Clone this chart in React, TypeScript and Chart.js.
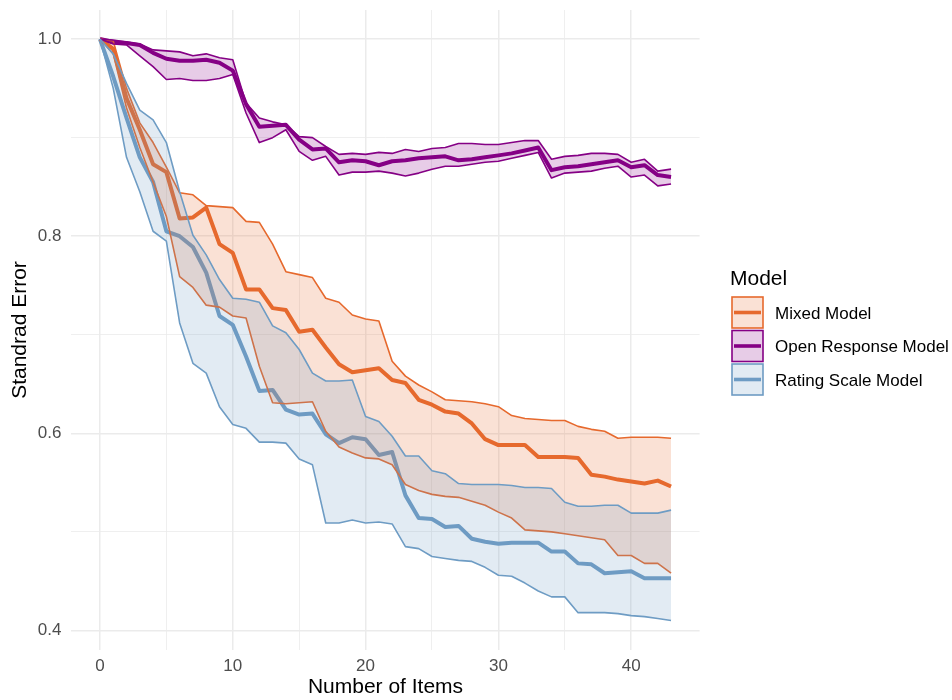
import { useEffect, useRef } from 'react';
import { Chart, registerables } from 'chart.js';

Chart.register(...registerables);

// Number of items administered (x axis)
const items = [
  0, 1, 2, 3, 4, 5, 6, 7, 8, 9, 10, 11, 12, 13, 14, 15, 16, 17, 18, 19, 20, 21,
  22, 23, 24, 25, 26, 27, 28, 29, 30, 31, 32, 33, 34, 35, 36, 37, 38, 39, 40, 41, 42, 43,
];

// Mixed Model: mean standard error and its band
const mixedMean = [
  1.0, 0.99, 0.94, 0.908, 0.873, 0.865, 0.818, 0.819, 0.829, 0.792, 0.783, 0.746, 0.746, 0.727,
  0.725, 0.703, 0.705, 0.687, 0.67, 0.662, 0.664, 0.666, 0.654, 0.651, 0.634, 0.629, 0.622, 0.62,
  0.61, 0.594, 0.588, 0.588, 0.588, 0.576, 0.576, 0.576, 0.575, 0.558, 0.556, 0.553, 0.551, 0.549,
  0.552, 0.546,
];
const mixedUpper = [
  1.0, 0.998, 0.95, 0.915, 0.895, 0.87, 0.844, 0.842, 0.831, 0.83, 0.829, 0.815, 0.814, 0.792,
  0.764, 0.761, 0.758, 0.737, 0.733, 0.72, 0.716, 0.714, 0.673, 0.658, 0.649, 0.642, 0.634, 0.633,
  0.632, 0.63, 0.627, 0.618, 0.615, 0.614, 0.613, 0.613, 0.607, 0.604, 0.602, 0.595, 0.596, 0.596,
  0.596, 0.595,
];
const mixedLower = [
  1.0, 0.985, 0.93, 0.89, 0.855, 0.82, 0.759, 0.748, 0.73, 0.728, 0.719, 0.717, 0.668, 0.631,
  0.63, 0.631, 0.632, 0.602, 0.586, 0.58, 0.575, 0.574, 0.568, 0.548, 0.542, 0.538, 0.536, 0.535,
  0.531, 0.527, 0.52, 0.514, 0.502, 0.501, 0.5, 0.498, 0.496, 0.494, 0.492, 0.476, 0.476, 0.468,
  0.468, 0.458,
];

// Open Response Model
const openMean = [
  1.0, 0.997, 0.996, 0.994, 0.986, 0.98, 0.978, 0.978, 0.979, 0.976, 0.968, 0.934, 0.911, 0.912,
  0.913, 0.898, 0.888, 0.889, 0.875, 0.877, 0.876, 0.872, 0.876, 0.877, 0.879, 0.88, 0.881, 0.877,
  0.878, 0.88, 0.882, 0.884, 0.887, 0.89, 0.867, 0.87, 0.871, 0.873, 0.875, 0.877, 0.87, 0.872,
  0.862, 0.86,
];
const openUpper = [
  1.0, 0.999, 0.997, 0.995, 0.989, 0.988, 0.987, 0.983, 0.985, 0.981, 0.979, 0.935, 0.92, 0.916,
  0.913, 0.901, 0.9, 0.891, 0.883, 0.884, 0.883, 0.885, 0.884, 0.888, 0.886, 0.889, 0.89, 0.894,
  0.894, 0.893, 0.893, 0.895, 0.897, 0.897, 0.878, 0.881, 0.882, 0.884, 0.884, 0.883, 0.875, 0.878,
  0.866, 0.868,
];
const openLower = [
  1.0, 0.995, 0.994, 0.983, 0.972, 0.959, 0.96, 0.958, 0.958, 0.96, 0.964, 0.925, 0.895, 0.9,
  0.908, 0.886, 0.877, 0.881, 0.862, 0.865, 0.865, 0.866, 0.864, 0.861, 0.864, 0.868, 0.871, 0.871,
  0.873, 0.875, 0.876, 0.879, 0.882, 0.885, 0.859, 0.864, 0.865, 0.866, 0.869, 0.871, 0.86, 0.862,
  0.851, 0.853,
];

// Rating Scale Model
const ratingMean = [
  1.0, 0.962, 0.92, 0.88, 0.855, 0.805, 0.8, 0.789, 0.763, 0.719, 0.71, 0.678, 0.643, 0.644,
  0.624, 0.619, 0.62, 0.599, 0.59, 0.596, 0.594, 0.578, 0.581, 0.537, 0.514, 0.513, 0.505, 0.506,
  0.493, 0.49, 0.488, 0.489, 0.489, 0.489, 0.48, 0.48, 0.468, 0.467, 0.458, 0.459, 0.46, 0.453,
  0.453, 0.453,
];
const ratingUpper = [
  1.0, 0.985, 0.955, 0.928, 0.918, 0.895, 0.845, 0.801, 0.781, 0.756, 0.737, 0.736, 0.733, 0.709,
  0.702, 0.685, 0.661, 0.653, 0.653, 0.654, 0.617, 0.612, 0.597, 0.577, 0.577, 0.562, 0.559, 0.549,
  0.548, 0.548, 0.548, 0.547, 0.545, 0.545, 0.544, 0.53, 0.526, 0.526, 0.527, 0.527, 0.519, 0.519,
  0.519, 0.522,
];
const ratingLower = [
  1.0, 0.95, 0.88, 0.845, 0.805, 0.795, 0.712, 0.671, 0.661, 0.627, 0.609, 0.605, 0.591, 0.591,
  0.59, 0.574, 0.568, 0.509, 0.509, 0.512, 0.509, 0.51, 0.508, 0.485, 0.483, 0.475, 0.473, 0.471,
  0.47, 0.464, 0.456, 0.455, 0.448, 0.44, 0.434, 0.434, 0.418, 0.418, 0.418, 0.417, 0.415, 0.414,
  0.412, 0.41,
];

const modelNames = ['Mixed Model', 'Open Response Model', 'Rating Scale Model'];
const modelColors = ['#E6692D', '#850085', '#6E9CC4'];

// grid positions and labelled ticks
const xGrid = [0, 5, 10, 15, 20, 25, 30, 35, 40];
const xLabels = [0, 10, 20, 30, 40];
const yGrid = [0.4, 0.5, 0.6, 0.7, 0.8, 0.9, 1.0];
const yLabels = [0.4, 0.6, 0.8, 1.0];

const FONT = '"Liberation Sans", Arial, Helvetica, sans-serif';
const TITLE_SIZE = 21;
const TEXT_SIZE = 17;

function withAlpha(hex: string, a: number) {
  const n = parseInt(hex.slice(1), 16);
  return `rgba(${(n >> 16) & 255}, ${(n >> 8) & 255}, ${n & 255}, ${a})`;
}

function toPoints(ys: number[]) {
  return items.map((x, i) => ({ x, y: ys[i] }));
}

const legendPlugin = {
  id: 'modelLegend',
  afterDraw(chart: any) {
    const ctx = chart.ctx as CanvasRenderingContext2D;
    ctx.save();
    ctx.textAlign = 'left';
    ctx.textBaseline = 'alphabetic';
    ctx.fillStyle = '#000000';
    ctx.font = `${TITLE_SIZE}px ${FONT}`;
    ctx.fillText('Model', 730, 284.5);
    modelNames.forEach((name, i) => {
      const color = modelColors[i];
      const x = 732;
      const y = 297 + i * 33.5;
      const w = 31;
      const h = 31;
      ctx.fillStyle = withAlpha(color, 0.2);
      ctx.fillRect(x, y, w, h);
      ctx.strokeStyle = color;
      ctx.lineWidth = 1.6;
      ctx.strokeRect(x, y, w, h);
      ctx.lineWidth = 3.6;
      ctx.beginPath();
      ctx.moveTo(x + 2, y + h / 2);
      ctx.lineTo(x + w - 2, y + h / 2);
      ctx.stroke();
      ctx.fillStyle = '#000000';
      ctx.font = `${TEXT_SIZE}px ${FONT}`;
      ctx.fillText(name, 775, y + h / 2 + 6);
    });
    ctx.restore();
  },
};

export default function App() {
  const canvasRef = useRef<HTMLCanvasElement | null>(null);

  useEffect(() => {
    const canvas = canvasRef.current;
    if (!canvas) return;

    const bands = [
      { mean: mixedMean, upper: mixedUpper, lower: mixedLower },
      { mean: openMean, upper: openUpper, lower: openLower },
      { mean: ratingMean, upper: ratingUpper, lower: ratingLower },
    ];

    const datasets: any[] = [];
    // ribbons: upper edge fills down to the lower edge pushed right before it
    bands.forEach((b, k) => {
      const color = modelColors[k];
      datasets.push({
        label: `${modelNames[k]} lower`,
        data: toPoints(b.lower),
        borderColor: color,
        borderWidth: 1.6,
        pointRadius: 0,
        fill: false,
        order: 19 - 2 * k,
      });
      datasets.push({
        label: `${modelNames[k]} upper`,
        data: toPoints(b.upper),
        borderColor: color,
        backgroundColor: withAlpha(color, 0.2),
        borderWidth: 1.6,
        pointRadius: 0,
        fill: '-1',
        order: 20 - 2 * k,
      });
    });
    // mean lines, drawn underneath the ribbons
    bands.forEach((b, k) => {
      datasets.push({
        label: modelNames[k],
        data: toPoints(b.mean),
        borderColor: modelColors[k],
        borderWidth: 4,
        pointRadius: 0,
        fill: false,
        order: 100 + k,
      });
    });

    const gridWidth = (ctx: any, labelled: number[]) => {
      const v = ctx.tick ? ctx.tick.value : null;
      return v !== null && labelled.some((t) => Math.abs(t - v) < 1e-9) ? 1.5 : 0.8;
    };

    const chart = new Chart(canvas, {
      type: 'line',
      data: { datasets },
      plugins: [legendPlugin],
      options: {
        animation: false,
        responsive: false,
        devicePixelRatio: 1,
        layout: { padding: { left: 0, top: 10, right: 252.4, bottom: 0 } },
        plugins: {
          legend: { display: false },
          tooltip: { enabled: false },
          filler: { propagate: false },
        },
        elements: { line: { tension: 0, borderJoinStyle: 'round', borderCapStyle: 'butt' } },
        scales: {
          x: {
            type: 'linear',
            min: -2.15,
            max: 45.15,
            afterBuildTicks: (s: any) => {
              s.ticks = xGrid.map((v) => ({ value: v }));
            },
            afterFit: (s: any) => {
              s.height = 50;
              s.paddingLeft = 0;
              s.paddingRight = 0;
            },
            ticks: {
              autoSkip: false,
              maxRotation: 0,
              padding: 5.8,
              color: '#4D4D4D',
              font: { family: FONT, size: TEXT_SIZE },
              callback: (v: any) => (xLabels.includes(Number(v)) ? String(v) : ''),
            },
            grid: {
              color: '#EBEBEB',
              drawTicks: false,
              lineWidth: (ctx: any) => gridWidth(ctx, xLabels),
            },
            border: { display: false },
            title: {
              display: true,
              text: 'Number of Items',
              color: '#000000',
              font: { family: FONT, size: TITLE_SIZE },
              padding: { top: 0, bottom: 0 },
            },
          },
          y: {
            type: 'linear',
            min: 0.3801,
            max: 1.0295,
            afterBuildTicks: (s: any) => {
              s.ticks = yGrid.map((v) => ({ value: v }));
            },
            afterFit: (s: any) => {
              s.width = 71.4;
              s.paddingTop = 0;
              s.paddingBottom = 0;
            },
            ticks: {
              autoSkip: false,
              padding: 10,
              color: '#4D4D4D',
              font: { family: FONT, size: TEXT_SIZE },
              callback: (v: any) =>
                yLabels.some((t) => Math.abs(t - Number(v)) < 1e-9) ? Number(v).toFixed(1) : '',
            },
            grid: {
              color: '#EBEBEB',
              drawTicks: false,
              lineWidth: (ctx: any) => gridWidth(ctx, yLabels),
            },
            border: { display: false },
            title: {
              display: true,
              text: 'Standrad Error',
              color: '#000000',
              font: { family: FONT, size: TITLE_SIZE },
              padding: { top: 8, bottom: 0 },
            },
          },
        },
      },
    } as any);

    return () => chart.destroy();
  }, []);

  return (
    <div
      style={{
        position: 'absolute',
        left: 0,
        top: 0,
        width: 952,
        height: 700,
        background: '#ffffff',
      }}
    >
      <canvas ref={canvasRef} width={952} height={700} style={{ display: 'block' }} />
    </div>
  );
}
